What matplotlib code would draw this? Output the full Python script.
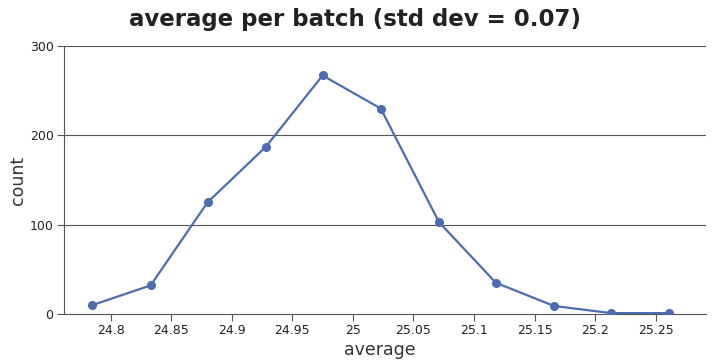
import matplotlib as mpl
mpl.use('Agg')
import matplotlib.pyplot as plt

averages = [24.785, 24.833, 24.880, 24.928, 24.975, 25.023, 25.071, 25.118, 25.166, 25.213, 25.261]
counts = [10, 32, 125, 187, 267, 230, 103, 35, 9, 1, 1]
xticks = [24.8, 24.85, 24.9, 24.95, 25.0, 25.05, 25.1, 25.15, 25.2, 25.25]
xtick_labels = ["24.8", "24.85", "24.9", "24.95", "25", "25.05", "25.1", "25.15", "25.2", "25.25"]
yticks = [0, 100, 200, 300]

fig = plt.figure(figsize=(7.13, 3.62), dpi=100)
ax = fig.add_axes([64/713, 1 - 314/362, (706 - 64)/713, (314 - 46)/362])

ax.plot(averages, counts, color="#4d6db0", lw=1.6, marker="o", ms=5.5, zorder=3)

ax.set_xlim(24.7615, 25.2915)
ax.set_ylim(0, 300)
ax.set_xticks(xticks)
ax.set_xticklabels(xtick_labels)
ax.set_yticks(yticks)
for y in yticks[1:]:
  ax.axhline(y, color="#555555", lw=0.8, zorder=1)

for s in ["top", "right"]:
  ax.spines[s].set_visible(False)
for s in ["left", "bottom"]:
  ax.spines[s].set_color("#555555")
  ax.spines[s].set_linewidth(0.8)
ax.tick_params(colors="#555555", labelcolor="#222222", labelsize=9, length=5, width=0.8, pad=2.5)

ax.set_xlabel("average", fontsize=12.5, color="#333333")
ax.set_ylabel("count", fontsize=12.5, color="#333333")
ax.xaxis.set_label_coords(0.492, -0.1)
ax.yaxis.set_label_coords(-0.057, 0.5)

fig.text(0.498, 0.945, "average per batch (std dev = 0.07)", ha="center", va="center",
         fontsize=16.5, fontweight="bold", color="#222222")

plt.savefig("out.png", dpi=100)
